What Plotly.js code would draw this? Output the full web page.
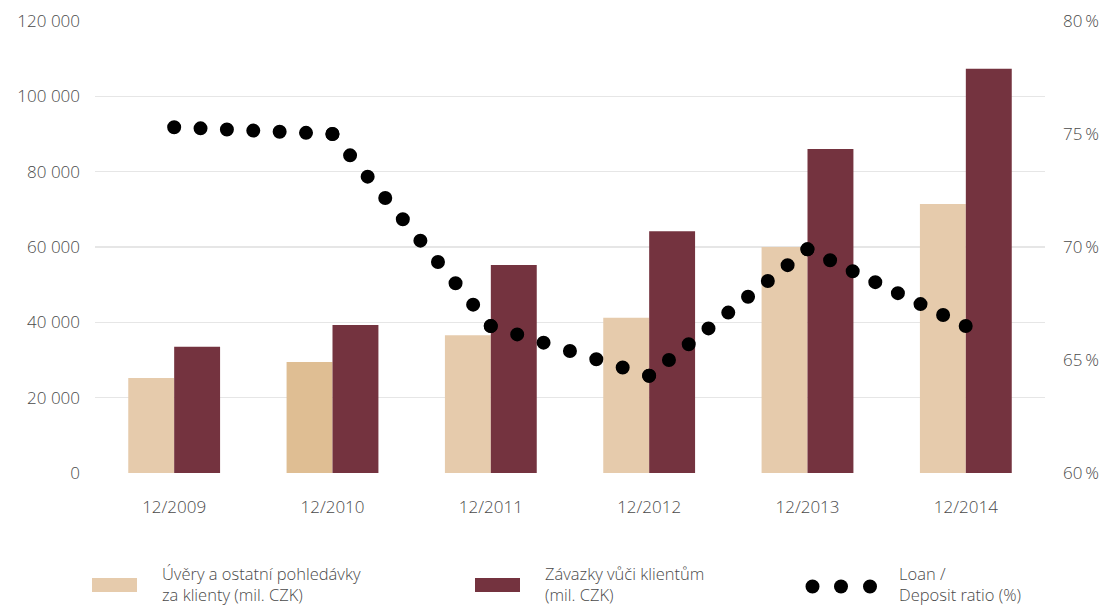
<!DOCTYPE html>
<html>
<head>
<meta charset="utf-8">
<script src="https://cdn.plot.ly/plotly-3.0.1.min.js"></script>
<style>
  html, body { margin: 0; padding: 0; background: #fff; }
  #chart { width: 1108px; height: 608px; }
  .scatterlayer .js-line { stroke-linecap: round; }
</style>
</head>
<body>
<div id="chart"></div>
<script>
// ---- Data ----
const categories = ["12/2009", "12/2010", "12/2011", "12/2012", "12/2013", "12/2014"];
const loans = [25200, 29500, 36600, 41200, 60000, 71400];      // Úvěry a ostatní pohledávky za klienty (mil. CZK)
const deposits = [33500, 39300, 55200, 64200, 86000, 107300];  // Závazky vůči klientům (mil. CZK)
const ratio = [75.3, 75.0, 66.5, 64.3, 69.9, 66.5];            // Loan / Deposit ratio (%)
const seriesNames = ["Úvěry a ostatní pohledávky<br>za klienty (mil. CZK)", "Závazky vůči klientům<br>(mil. CZK)", "Loan /<br>Deposit ratio (%)"];

// ---- Styles ----
const lightColors = ["#E6CBAC", "#DFBE93", "#E6CBAC", "#E6CBAC", "#E6CBAC", "#E6CBAC"];
const darkColor = "#74333F";
const textColor = "#4a4a4a";
const fontFamily = "'Open Sans', Roboto, sans-serif";
const baseFont = { family: fontFamily, size: 17, color: textColor, weight: 300 };
const legendFont = { family: fontFamily, size: 16.5, color: textColor, weight: 300 };

const W = 1108, H = 608;
const M = { l: 95, r: 63, t: 21, b: 135 };
const PW = W - M.l - M.r, PH = H - M.t - M.b;
const px = x => (x - M.l) / PW;
const py = y => (H - M.b - y) / PH;
const Y2 = [60, 80];
const dotStep = 26.4;   // approximate spacing of the dots along the line (px)

const traces = [
  {
    type: "bar", x: categories, y: loans, name: seriesNames[0],
    marker: { color: lightColors }, hoverinfo: "none", showlegend: false
  },
  {
    type: "bar", x: categories, y: deposits, name: seriesNames[1],
    marker: { color: darkColor }, hoverinfo: "none", showlegend: false
  }
];

// dotted ratio line: one trace per segment so that a dot sits on every year
const catW = PW / categories.length;
for (let i = 0; i < categories.length - 1; i++) {
  const dx = catW;
  const dy = (ratio[i + 1] - ratio[i]) / (Y2[1] - Y2[0]) * PH;
  const len = Math.hypot(dx, dy);
  const n = Math.max(1, Math.round(len / dotStep));
  const period = len / n - 0.02;
  traces.push({
    type: "scatter", mode: "lines", yaxis: "y2", name: seriesNames[2],
    x: [categories[i], categories[i + 1]], y: [ratio[i], ratio[i + 1]],
    line: { color: "#000", width: 14, dash: "0px," + period.toFixed(3) + "px" },
    hoverinfo: "none", showlegend: false
  });
}

const shapes = [
  { type: "rect", xref: "paper", yref: "paper", x0: px(92), x1: px(137), y0: py(592), y1: py(578),
    fillcolor: lightColors[0], line: { width: 0 } },
  { type: "rect", xref: "paper", yref: "paper", x0: px(475), x1: px(520), y0: py(592), y1: py(578),
    fillcolor: darkColor, line: { width: 0 } }
];
[812.5, 841, 870].forEach(cx => {
  shapes.push({ type: "circle", xref: "paper", yref: "paper",
    x0: px(cx - 7), x1: px(cx + 7), y0: py(586.5 + 7), y1: py(586.5 - 7),
    fillcolor: "#000", line: { width: 0 } });
});

const legendX = [160, 543, 897];
const annotations = seriesNames.map((t, i) => ({
  xref: "paper", yref: "paper", x: px(legendX[i]), y: py(584),
  xanchor: "left", yanchor: "middle", align: "left", showarrow: false,
  text: t, font: legendFont
}));

const layout = {
  width: W, height: H,
  margin: M,
  paper_bgcolor: "#fff", plot_bgcolor: "#fff",
  separators: ", ",
  barmode: "group", bargap: 0.42, bargroupgap: 0,
  showlegend: false,
  font: baseFont,
  xaxis: {
    type: "category", showgrid: false, zeroline: false, showline: false,
    ticks: "", ticklabelstandoff: 22, tickfont: baseFont
  },
  yaxis: {
    range: [0, 120000], dtick: 20000, tickformat: ",d",
    showgrid: true, gridcolor: "#e6e6e6", gridwidth: 1.5, zeroline: false, showline: false,
    ticks: "", ticklabelstandoff: 14, tickfont: baseFont
  },
  yaxis2: {
    overlaying: "y", side: "right", range: Y2, dtick: 5,
    ticksuffix: "\u2009%", showgrid: false, zeroline: false, showline: false,
    ticks: "", ticklabelstandoff: 17, tickfont: baseFont
  },
  shapes: shapes,
  annotations: annotations
};

Plotly.newPlot("chart", traces, layout, { displayModeBar: false, staticPlot: true });
</script>
</body>
</html>
